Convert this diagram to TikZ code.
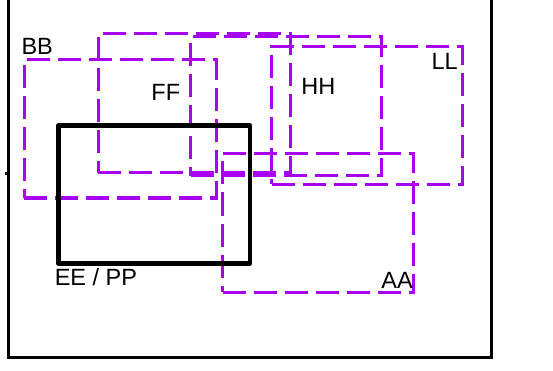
\documentclass[tikz,border=0pt]{standalone}
\usepackage{fontspec}
\setmainfont{Liberation Sans}
\definecolor{vio}{RGB}{168,0,240}
\begin{document}
\begin{tikzpicture}[x=1pt,y=-1pt,
  pbox/.style={draw=vio,line width=3pt,dash pattern=on 23pt off 8pt,inner sep=0pt,outer sep=0pt,anchor=north west},
  kbox/.style={draw=black,line width=4.5pt,line join=round,inner sep=0pt,outer sep=0pt,anchor=north west},
  lab/.style={inner sep=0pt,outer sep=0pt,font=\fontsize{23.5}{27}\selectfont,text=black}]
\useasboundingbox (0,0) rectangle (553,371);
\fill[white] (0,0) rectangle (553,371);
% outer frame
\node[draw=black,line width=2.8pt,inner sep=0pt,outer sep=0pt,anchor=north west,minimum width=483pt,minimum height=368pt] (frame) at (8.3,-10.5) {};
\fill[black] (5,171.7) rectangle (10,175);
% dashed boxes
\node[pbox,minimum width=192pt,minimum height=138pt] (BB) at (24,60) {};
\node[pbox,minimum width=192pt,minimum height=139.5pt] (FF) at (98,33.5) {};
\node[pbox,minimum width=191pt,minimum height=139pt] (HH) at (190.7,37) {};
\node[pbox,minimum width=190.5pt,minimum height=137.5pt] (LL) at (271.5,47) {};
\node[pbox,minimum width=190.6pt,minimum height=138.3pt] (AA) at (222.7,154) {};
% solid box
\node[kbox,minimum width=191.7pt,minimum height=137.6pt] (EE) at (58.3,125.7) {};
% labels
\node[lab,anchor=base west] (tBB) at (21.5,54.3) {BB};
\node[lab,anchor=base west] (tFF) at (151.4,101) {FF};
\node[lab,anchor=base west] (tHH) at (301.4,95) {HH};
\node[lab,anchor=base west] (tLL) at (431.5,69.6) {LL};
\node[lab,anchor=base west] (tEE) at (54.8,285) {EE / PP};
\node[lab,anchor=base east] (tAA) at (412.7,288.3) {AA};
\end{tikzpicture}
\end{document}
